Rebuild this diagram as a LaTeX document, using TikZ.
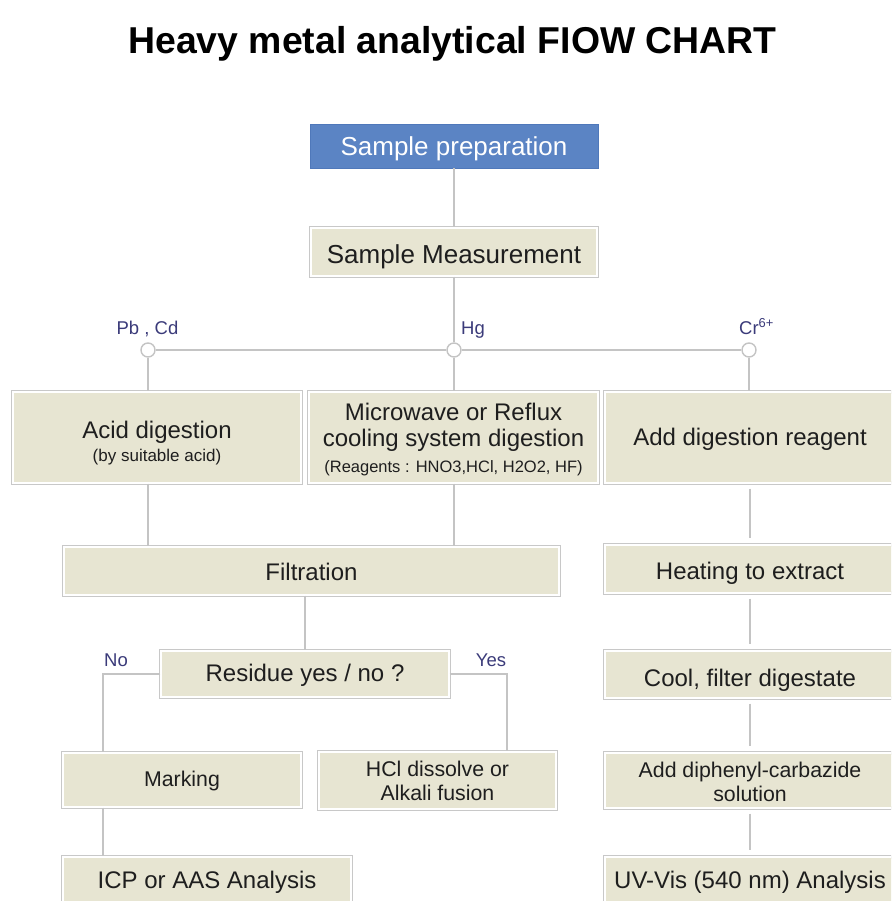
\documentclass[tikz,border=0pt]{standalone}
\usepackage{fontspec}
\setmainfont{Liberation Sans}
\definecolor{boxfill}{HTML}{E7E5D2}
\definecolor{boxline}{HTML}{C8C8C8}
\definecolor{linec}{HTML}{C4C4C4}
\definecolor{bluefill}{HTML}{5B84C4}
\definecolor{blueline}{HTML}{4F78BA}
\definecolor{labc}{HTML}{3B3B7A}
\definecolor{textc}{HTML}{1E1E1E}
\tikzset{
  box/.style={rectangle, fill=boxfill, draw=white, line width=1.2pt,
    preaction={draw=boxline, line width=3.4pt}, inner sep=0pt, align=center,
    text=textc, font=\fontsize{24}{26}\selectfont, text depth=5pt},
  smallbox/.style={box, font=\fontsize{21.3}{24.5}\selectfont},
  bluebox/.style={rectangle, fill=bluefill, draw=blueline, line width=0.8pt,
    inner sep=0pt, align=center, text=white, font=\fontsize{26}{28}\selectfont, text depth=5pt},
  conn/.style={draw=linec, line width=1.4pt},
  gapconn/.style={conn, shorten <=5pt, shorten >=6pt},
  dot/.style={circle, draw=linec, fill=white, line width=1.4pt,
    minimum size=14pt, inner sep=0pt},
  lab/.style={text=labc, font=\fontsize{18.5}{20}\selectfont, inner sep=0pt}
}
\begin{document}
\begin{tikzpicture}[x=1pt,y=-1pt]
\useasboundingbox (0,0) rectangle (891,901);
\clip (0,0) rectangle (891,901);
\fill[white] (0,0) rectangle (891,901);

% title
\node[anchor=base, inner sep=0pt, font=\bfseries\fontsize{37.4}{40}\selectfont] (title) at (452.5,54) {Heavy metal analytical FIOW CHART};

% top boxes
\node[bluebox, minimum width=288pt, minimum height=44pt, text height=25pt] (prep) at (454,146) {Sample preparation};
\node[box, minimum width=286pt, minimum height=48pt, font=\fontsize{26}{28}\selectfont, text height=27pt] (meas) at (454,252) {Sample Measurement};

% branch dots
\node[dot] (c1) at (148,350) {};
\node[dot] (c2) at (454,350) {};
\node[dot] (c3) at (749,350) {};
\node[lab, anchor=base] (lpb) at (147.5,334) {Pb , Cd};
\node[lab, anchor=base] (lhg) at (473,334) {Hg};
\node[lab, anchor=base west] (lcr) at (739,334) {Cr\textsuperscript{6+}};

% second row
\node[box, minimum width=288pt, minimum height=91pt, font=\fontsize{24}{23}\selectfont, text height=51pt, text depth=4pt] (acid) at (157,437.5) {Acid digestion\\{\fontsize{17}{20}\selectfont (by suitable acid)}};
\node[box, minimum width=289pt, minimum height=91pt, text height=73pt, text depth=4pt] (micro) at (453.5,437.5) {Microwave or Reflux\\cooling system digestion\\{\fontsize{16.5}{20}\selectfont (Reagents : HNO3,HCl, H2O2, HF)}};
\node[box, minimum width=290pt, minimum height=91pt, text height=21pt] (reag) at (750,437.5) {Add digestion reagent};

% left branch
\node[box, minimum width=495pt, minimum height=48pt, text height=23pt] (filt) at (311.5,571) {Filtration};
\node[box, minimum width=288pt, minimum height=46pt, text height=20.5pt] (resid) at (305,674) {Residue yes / no ?};
\node[lab, anchor=base] (lno) at (116,666) {No};
\node[lab, anchor=base] (lyes) at (491,666) {Yes};
\node[smallbox, minimum width=238pt, minimum height=54pt, text height=17pt] (mark) at (182,780) {Marking};
\node[smallbox, minimum width=237pt, minimum height=57pt, text height=45.2pt] (hcl) at (437.5,780.5) {HCl dissolve or\\Alkali fusion};
\node[box, minimum width=288pt, minimum height=46pt, text height=21pt] (icp) at (207,880) {ICP or AAS Analysis};

% right column
\node[box, minimum width=290pt, minimum height=48pt, text height=25pt] (heat) at (750,569) {Heating to extract};
\node[box, minimum width=290pt, minimum height=47pt, text height=29pt] (cool) at (750,674.5) {Cool, filter digestate};
\node[smallbox, minimum width=290pt, minimum height=55pt, text height=47pt] (diph) at (750,780.5) {Add diphenyl-carbazide\\solution};
\node[box, minimum width=290pt, minimum height=46pt, text height=21pt] (uv) at (750,880) {UV-Vis (540 nm) Analysis};

\coordinate (nox) at (103,0);
\coordinate (yesx) at (507,0);

% connectors
\draw[conn] (prep) -- (meas);
\draw[conn] (meas) -- (c2);
\draw[conn] (c1) -- (c2);
\draw[conn] (c2) -- (c3);
\draw[conn] (c1) -- (c1 |- acid.north);
\draw[conn] (c2) -- (c2 |- micro.north);
\draw[conn] (c3) -- (c3 |- reag.north);
\draw[conn] (acid.south -| c1) -- (filt.north -| c1);
\draw[conn] (micro.south -| c2) -- (filt.north -| c2);
\draw[conn] (filt.south -| resid) -- (resid);
\draw[conn] (resid.west) -| (nox |- mark.north);
\draw[conn] (resid.east) -| (yesx |- hcl.north);
\draw[conn] (nox |- mark.south) -- (nox |- icp.north);
\draw[gapconn] (reag) -- (heat);
\draw[gapconn] (heat) -- (cool);
\draw[gapconn] (cool) -- (diph);
\draw[gapconn] (diph) -- (uv);
\end{tikzpicture}
\end{document}
